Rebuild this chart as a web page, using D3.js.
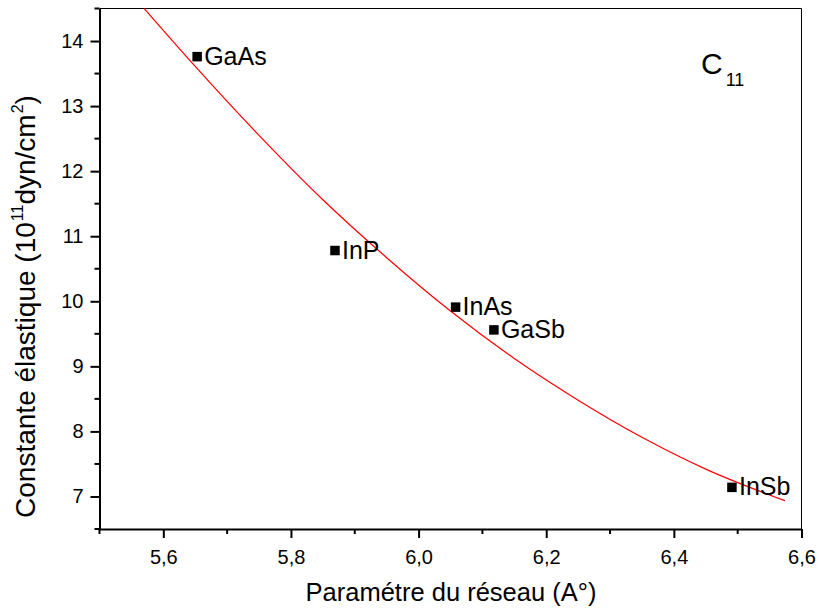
<!DOCTYPE html>
<html>
<head>
<meta charset="utf-8">
<script src="https://cdn.jsdelivr.net/npm/d3@7"></script>
<style>
  body { margin: 0; background: #fff; }
  svg { display: block; font-family: "Liberation Sans", Arial, sans-serif; }
</style>
</head>
<body>
<div id="chart"></div>
<script>
// compounds and their measured values
const compounds = ['GaAs', 'InP', 'InAs', 'GaSb', 'InSb'];
const latticeParam = [5.653, 5.869, 6.058, 6.118, 6.491];
const c11Values = [13.76, 10.78, 9.91, 9.56, 7.14];

// fitted red curve
const fitX = [5.570, 5.650, 5.750, 5.850, 5.950, 6.050, 6.150, 6.250, 6.350, 6.450, 6.574];
const fitY = [14.50, 13.61, 12.55, 11.56, 10.67, 9.85, 9.12, 8.48, 7.91, 7.42, 6.935];

const xMajor = [5.6, 5.8, 6.0, 6.2, 6.4, 6.6];
const xMinor = [5.5, 5.7, 5.9, 6.1, 6.3, 6.5];
const yMajor = [7, 8, 9, 10, 11, 12, 13, 14];
const yMinor = [6.5, 7.5, 8.5, 9.5, 10.5, 11.5, 12.5, 13.5, 14.5];

const width = 819, height = 612;
const plotL = 99.5, plotR = 801.5, plotT = 8.5, plotB = 529;

const svg = d3.select('#chart').append('svg')
    .attr('width', width)
    .attr('height', height);

const x = d3.scaleLinear().domain([5.5, 6.6]).range([plotL, plotR]);
const y = d3.scaleLinear().domain([6.5, 14.5]).range([plotB, plotT]);

const fmt = (d) => d3.format('.1f')(d).replace('.', ',');

// frame top / right (thin)
svg.append('line')
    .attr('x1', plotL).attr('x2', plotR).attr('y1', plotT).attr('y2', plotT)
    .attr('stroke', '#000').attr('stroke-width', 1);
svg.append('line')
    .attr('x1', plotR).attr('x2', plotR).attr('y1', plotT).attr('y2', plotB)
    .attr('stroke', '#000').attr('stroke-width', 1);

// bottom axis
const xAxis = svg.append('g')
    .attr('transform', `translate(0,${plotB})`)
    .call(d3.axisBottom(x).tickValues(xMajor).tickFormat(fmt).tickSize(9).tickPadding(12).tickSizeOuter(0));
xAxis.selectAll('.minor')
    .data(xMinor)
    .enter()
    .append('line')
    .attr('class', 'minor')
    .attr('x1', (d) => x(d)).attr('x2', (d) => x(d))
    .attr('y1', 0).attr('y2', 5)
    .attr('stroke', '#000').attr('stroke-width', 2);

// left axis
const yAxis = svg.append('g')
    .attr('transform', `translate(${plotL},0)`)
    .call(d3.axisLeft(y).tickValues(yMajor).tickSize(9).tickPadding(7).tickSizeOuter(0));
yAxis.selectAll('.minor')
    .data(yMinor)
    .enter()
    .append('line')
    .attr('class', 'minor')
    .attr('x1', 0).attr('x2', -5)
    .attr('y1', (d) => y(d)).attr('y2', (d) => y(d))
    .attr('stroke', '#000').attr('stroke-width', 2);

svg.selectAll('.domain').attr('stroke', '#000').attr('stroke-width', 2);
svg.selectAll('.tick line').attr('stroke', '#000').attr('stroke-width', 2);
svg.selectAll('.tick text')
    .attr('fill', '#000')
    .attr('font-size', '20px')
    .attr('font-family', '"Liberation Sans", Arial, sans-serif');

// red fit curve
const fitPts = fitX.map((d, i) => [d, fitY[i]]);
svg.append('path')
    .datum(fitPts)
    .attr('fill', 'none')
    .attr('stroke', '#ff0000')
    .attr('stroke-width', 1.2)
    .attr('d', d3.line()
        .x((d) => x(d[0]))
        .y((d) => y(d[1]))
        .curve(d3.curveMonotoneX));

// points + labels
const sq = 9.5;
const pts = compounds.map((c, i) => ({ name: c, px: latticeParam[i], py: c11Values[i] }));
svg.selectAll('.pt')
    .data(pts)
    .enter()
    .append('rect')
    .attr('class', 'pt')
    .attr('x', (d) => x(d.px) - sq / 2)
    .attr('y', (d) => y(d.py) - sq / 2)
    .attr('width', sq)
    .attr('height', sq)
    .attr('fill', '#000');
svg.selectAll('.pt-label')
    .data(pts)
    .enter()
    .append('text')
    .attr('class', 'pt-label')
    .attr('x', (d) => x(d.px) + 7)
    .attr('y', (d) => y(d.py) + 8)
    .attr('font-size', '25px')
    .attr('fill', '#000')
    .text((d) => d.name);

// C11 annotation
const c11 = svg.append('text')
    .attr('x', 701)
    .attr('y', 74)
    .attr('font-size', '30px')
    .attr('fill', '#000');
c11.append('tspan').text('C');
c11.append('tspan').attr('dx', 3).attr('dy', 12).attr('font-size', '18px').text('11');

// axis titles
svg.append('text')
    .attr('x', 451)
    .attr('y', 601)
    .attr('text-anchor', 'middle')
    .attr('font-size', '25.5px')
    .attr('fill', '#000')
    .text('Paramétre du réseau (A°)');

const yTitle = svg.append('text')
    .attr('transform', 'translate(35,306.5) rotate(-90)')
    .attr('text-anchor', 'middle')
    .attr('font-size', '28px')
    .attr('fill', '#000');
yTitle.append('tspan').text('Constante élastique (10');
yTitle.append('tspan').attr('dy', -12).attr('dx', 1).attr('font-size', '16px').text('11');
yTitle.append('tspan').attr('dy', 12).text('dyn/cm');
yTitle.append('tspan').attr('dy', -12).attr('dx', 1).attr('font-size', '16px').text('2');
yTitle.append('tspan').attr('dy', 12).text(')');
</script>
</body>
</html>
